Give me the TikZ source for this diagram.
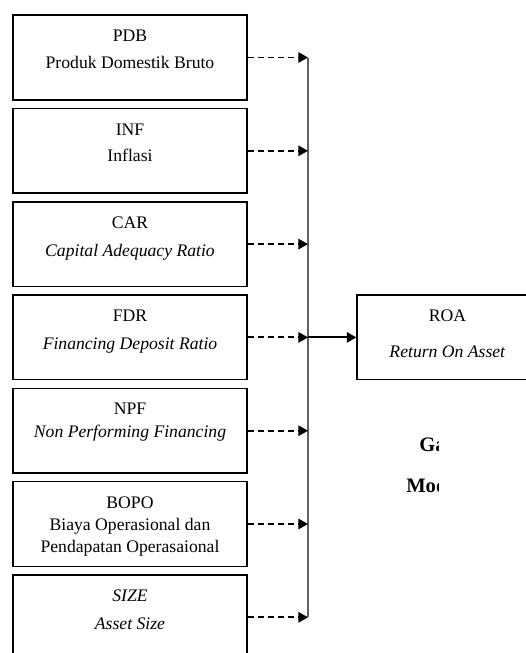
\documentclass[tikz,border=0pt]{standalone}
\usepackage{fontspec}
\setmainfont{Liberation Serif}
\usetikzlibrary{arrows.meta}

\begin{document}
\begin{tikzpicture}[x=0.68pt, y=-0.68pt, every node/.style={font=\fontsize{12}{15}\selectfont},
  varbox/.style={draw, line width=1pt, minimum width=159pt, minimum height=57.5pt, inner sep=0pt},
  roabox/.style={draw, line width=1pt, minimum width=123pt, minimum height=57.5pt, inner sep=0pt},
  txt/.style={anchor=north, align=center, inner sep=0pt, yshift=-10.5pt},
  dasharrow/.style={-{Triangle[length=6.5pt, width=7pt]}, line width=1.25pt, dash pattern=on 4pt off 2.8pt},
  mainarrow/.style={-{Triangle[length=6.5pt, width=7pt]}, line width=1.4pt},
  bus/.style={line width=1.5pt, black!62}]
  \useasboundingbox (0,0) rectangle (526,653);
  \clip (0,0) rectangle (526,653);
  % independent variables
  \node[varbox] (pdb) at (130,57.5) {};
  \node[varbox] (inf) at (130,150.8) {};
  \node[varbox] (car) at (130,244.1) {};
  \node[varbox] (fdr) at (130,337.4) {};
  \node[varbox] (npf) at (130,430.7) {};
  \node[varbox] (bopo) at (130,524) {};
  \node[varbox] (size) at (130,617.3) {};
  \node[txt] (pdbt) at (pdb.north) {PDB\\[3pt]Produk Domestik Bruto};
  \node[txt] (inft) at (inf.north) {INF\\[3pt]Inflasi};
  \node[txt] (cart) at (car.north) {CAR\\[4pt]\textit{Capital Adequacy Ratio}};
  \node[txt] (fdrt) at (fdr.north) {FDR\\[4pt]\textit{Financing Deposit Ratio}};
  \node[txt] (npft) at (npf.north) {NPF\\\textit{Non Performing Financing}};
  \node[txt] (bopot) at (bopo.north) {BOPO\\Biaya Operasional dan\\Pendapatan Operasaional};
  \node[txt] (sizet) at (size.north) {\textit{SIZE}\\[4pt]\textit{Asset Size}};
  % dependent variable
  \node[roabox] (roa) at (447.5,337.4) {};
  \node[txt] (roat) at (roa.north) {ROA\\[9pt]\textit{Return On Asset}};
  \coordinate (bustop) at (308,57.5);
  \coordinate (busbot) at (308,617.3);
  \draw[bus] (bustop) -- (busbot);
  \foreach \v in {pdb,inf,car,fdr,npf,bopo,size}
    \draw[dasharrow] (\v.east) -- (\v.east -| bustop);
  \draw[mainarrow] (fdr.east -| bustop) -- (roa.west);
  % caption, cut off at the page edge
  \begin{scope}
    \clip (380,420) rectangle (438,505);
    \node[anchor=west, inner sep=0pt, font=\fontsize{14}{16}\selectfont\bfseries] (cap1) at (419,444) {Gambar};
    \node[anchor=west, inner sep=0pt, font=\fontsize{14}{16}\selectfont\bfseries] (cap2) at (406,485.5) {Model};
  \end{scope}
\end{tikzpicture}
\end{document}
